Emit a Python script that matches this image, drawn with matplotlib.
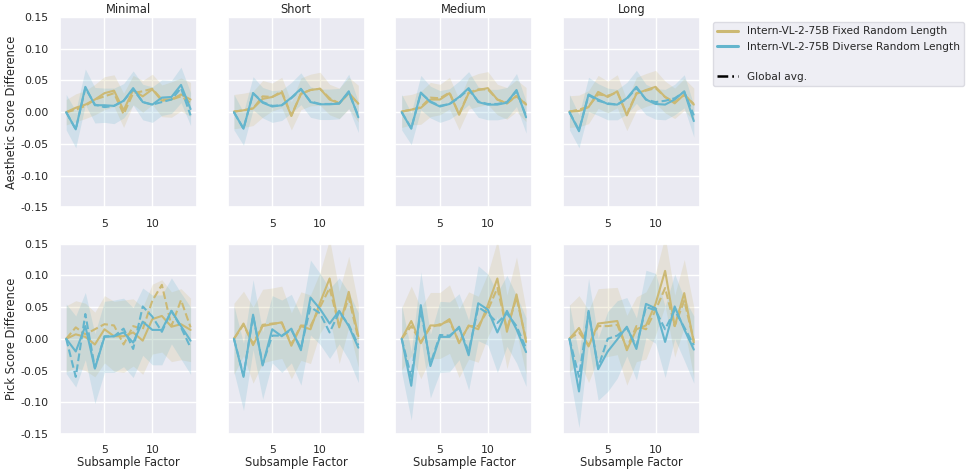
import matplotlib
matplotlib.use("Agg")
import matplotlib.pyplot as plt
from matplotlib.lines import Line2D
import seaborn as sns
import numpy as np

sns.set_theme(style="darkgrid")
plt.rcParams['font.family'] = ['DejaVu Sans']

GOLD = '#CCB974'
BLUE = '#64B5CD'

lengths = ['Minimal', 'Short', 'Medium', 'Long']
factors = list(range(1, 15))
metrics = ['Aesthetic Score Difference', 'Pick Score Difference']
series = ['Intern-VL-2-75B Fixed Random Length',
          'Intern-VL-2-75B Diverse Random Length']

# aesthetic score, fixed random length (mean, global avg, ci half width)
aes_fixed = {
    'Minimal': [0, .007, .012, .02, .03, .034, .003, .035, .025, .036, .018, .02, .028, .02],
    'Short':   [.001, .003, .006, .021, .024, .031, -.006, .029, .035, .037, .02, .014, .03, .0135],
    'Medium':  [.001, .004, .007, .02, .02, .03, -.004, .03, .035, .038, .02, .014, .026, .012],
    'Long':    [.001, .002, .008, .032, .024, .033, -.005, .029, .035, .04, .024, .014, .028, .012],
}
aes_fixed_avg = {
    'Minimal': [0, .004, .01, .02, .025, .03, -.003, .03, .033, .037, .02, .02, .025, .015],
    'Short':   [.001, .003, .006, .025, .024, .033, -.005, .029, .035, .037, .022, .014, .03, .013],
    'Medium':  [.001, .004, .008, .023, .022, .031, -.003, .031, .036, .036, .02, .014, .025, .013],
    'Long':    [.001, .004, .009, .028, .026, .031, -.003, .03, .034, .038, .024, .016, .027, .013],
}
aes_fixed_ci = {
    'Minimal': [.02, .022, .022, .024, .026, .025, .027, .023, .025, .024, .025, .028, .026, .027],
    'Short':   [.027, .027, .027, .029, .022, .024, .022, .025, .025, .026, .024, .024, .025, .029],
    'Medium':  [.025, .024, .026, .027, .024, .025, .024, .025, .026, .026, .024, .025, .025, .027],
    'Long':    [.025, .025, .026, .026, .025, .026, .024, .026, .026, .026, .025, .024, .025, .026],
}
# aesthetic score, diverse random length
aes_diverse = {
    'Minimal': [0, -.027, .04, .011, .011, .01, .018, .038, .016, .012, .023, .024, .043, .005],
    'Short':   [0, -.026, .03, .015, .009, .011, .023, .037, .016, .0125, .0125, .0135, .033, -.008],
    'Medium':  [0, -.026, .031, .016, .009, .013, .024, .038, .016, .012, .012, .015, .035, -.008],
    'Long':    [0, -.03, .028, .02, .013, .012, .022, .04, .02, .013, .012, .02, .033, -.014],
}
aes_diverse_avg = {
    'Minimal': [0, -.027, .038, .012, .008, .01, .018, .036, .016, .012, .016, .02, .038, -.005],
    'Short':   [0, -.026, .03, .016, .01, .011, .022, .036, .017, .013, .013, .014, .031, -.006],
    'Medium':  [0, -.025, .03, .017, .01, .013, .023, .036, .017, .013, .013, .016, .033, -.006],
    'Long':    [0, -.028, .027, .018, .014, .012, .021, .038, .02, .016, .018, .022, .032, -.005],
}
aes_diverse_ci = {
    'Minimal': [.028, .029, .028, .028, .027, .028, .027, .027, .028, .028, .028, .026, .028, .026],
    'Short':   [.028, .026, .026, .024, .025, .024, .024, .025, .024, .024, .024, .024, .027, .024],
    'Medium':  [.028, .025, .027, .025, .025, .024, .025, .026, .024, .024, .024, .024, .026, .025],
    'Long':    [.028, .026, .027, .025, .025, .024, .025, .026, .024, .024, .024, .024, .026, .025],
}

# pick score, fixed random length
pick_fixed = {
    'Minimal': [0, .007, .003, -.009, .015, .004, .004, .01, -.003, .031, .036, .019, .023, .014],
    'Short':   [0, .024, -.01, .02, .023, .026, -.011, .02, .015, .057, .095, .018, .074, .004],
    'Medium':  [0, .028, -.007, .021, .021, .031, -.007, .021, .015, .053, .095, .011, .07, -.005],
    'Long':    [0, .017, -.012, .024, .026, .028, -.018, .015, .021, .055, .107, .02, .072, -.006],
}
pick_fixed_avg = {
    'Minimal': [0, .018, .007, .015, .023, .021, -.009, .02, .015, .06, .085, .02, .061, .018],
    'Short':   [0, .022, -.008, .022, .024, .025, -.009, .021, .02, .05, .08, .02, .065, 0],
    'Medium':  [0, .02, -.005, .018, .023, .028, -.005, .02, .02, .045, .08, .015, .065, -.002],
    'Long':    [0, .01, -.01, .02, .02, .022, -.015, .02, .015, .045, .08, .02, .06, -.003],
}
pick_fixed_ci = {
    'Minimal': [.052, .053, .053, .051, .053, .055, .057, .053, .053, .055, .057, .055, .056, .05],
    'Short':   [.056, .051, .06, .058, .057, .057, .052, .054, .054, .048, .062, .057, .056, .049],
    'Medium':  [.049, .055, .056, .052, .052, .054, .054, .053, .052, .05, .06, .058, .059, .051],
    'Long':    [.053, .051, .057, .055, .054, .053, .055, .051, .053, .049, .055, .049, .053, .056],
}
# pick score, diverse random length
pick_diverse = {
    'Minimal': [0, -.02, .02, -.047, .003, .004, .01, -.006, .027, .014, .014, .044, .02, -.003],
    'Short':   [0, -.06, .038, -.042, .015, .004, .016, -.018, .065, .047, .024, .044, .02, -.014],
    'Medium':  [0, -.074, .053, -.043, .003, .003, .019, -.026, .056, .046, .01, .044, .015, -.021],
    'Long':    [0, -.083, .044, -.048, -.02, -.001, .019, -.016, .055, .048, -.005, .051, .015, -.017],
}
pick_diverse_avg = {
    'Minimal': [0, -.06, .039, -.046, .004, .004, .016, -.016, .051, .035, .011, .044, .018, -.014],
    'Short':   [0, -.058, .036, -.04, .005, .005, .014, -.015, .05, .04, .01, .042, .022, -.01],
    'Medium':  [0, -.06, .045, -.04, .006, .005, .017, -.02, .05, .04, .025, .04, .02, -.015],
    'Long':    [0, -.06, .042, -.045, 0, .005, .017, -.012, .05, .045, .015, .045, .018, -.01],
}
pick_diverse_ci = {
    'Minimal': [.055, .056, .053, .055, .056, .057, .054, .055, .053, .055, .055, .052, .052, .053],
    'Short':   [.052, .053, .055, .053, .053, .057, .054, .055, .059, .056, .055, .052, .053, .055],
    'Medium':  [.053, .054, .052, .05, .056, .055, .052, .055, .059, .056, .063, .056, .053, .054],
    'Long':    [.055, .057, .051, .049, .063, .061, .046, .049, .053, .055, .056, .051, .049, .053],
}


def draw_series(ax, x, mean, avg, ci, color):
    mean = np.array(mean)
    ci = np.array(ci)
    ax.fill_between(x, mean - ci, mean + ci, color=color, alpha=0.2, lw=0)
    ax.plot(x, mean, color=color, lw=1.5)
    ax.plot(x, avg, color=color, lw=1.5, ls='--')


def main():
    fig, axes = plt.subplots(2, 4, figsize=(9.72, 4.73), dpi=100, sharey=True)
    fig.subplots_adjust(left=0.0617, right=0.7202, top=0.964, bottom=0.0825,
                        wspace=0.226, hspace=0.19)

    rows = [(aes_fixed, aes_fixed_avg, aes_fixed_ci,
             aes_diverse, aes_diverse_avg, aes_diverse_ci),
            (pick_fixed, pick_fixed_avg, pick_fixed_ci,
             pick_diverse, pick_diverse_avg, pick_diverse_ci)]

    for r, data in enumerate(rows):
        fm, fa, fc, dm, da, dc = data
        for c, name in enumerate(lengths):
            ax = axes[r, c]
            draw_series(ax, factors, fm[name], fa[name], fc[name], GOLD)
            draw_series(ax, factors, dm[name], da[name], dc[name], BLUE)
            ax.set_ylim(-0.15, 0.15)
            ax.set_yticks([-0.15, -0.1, -0.05, 0, 0.05, 0.1, 0.15])
            ax.set_xticks([5, 10])
            ax.tick_params(labelsize=7.8, pad=2)
            if r == 0:
                ax.set_title(name, fontsize=8.3, pad=3)
            else:
                ax.set_xlabel('Subsample Factor', fontsize=8.3, labelpad=1)
            if c == 0:
                ax.set_ylabel(metrics[r], fontsize=8.3, labelpad=2)
                ax.yaxis.set_major_formatter(
                    matplotlib.ticker.FuncFormatter(lambda v, p: '%.2f' % v if abs(v) > 1e-9 else '0.00'))

    handles = [Line2D([], [], color=GOLD, lw=2.2),
               Line2D([], [], color=BLUE, lw=2.2),
               Line2D([], [], color='none'),
               Line2D([], [], color='black', lw=1.8,
                      ls=(0, (4.3, 1.6, 0.7, 1.6, 0.7, 1.6)))]
    labels = [series[0], series[1], '', 'Global avg.']
    leg = fig.legend(handles, labels, loc='upper left',
                     bbox_to_anchor=(713 / 972, 1 - 22 / 473),
                     fontsize=7.6, frameon=True, borderaxespad=0)
    leg.get_frame().set_facecolor('#EAEAF2')
    leg.get_frame().set_edgecolor('#D5D5DD')

    fig.savefig('out.png', dpi=100)


if __name__ == "__main__":
    main()
